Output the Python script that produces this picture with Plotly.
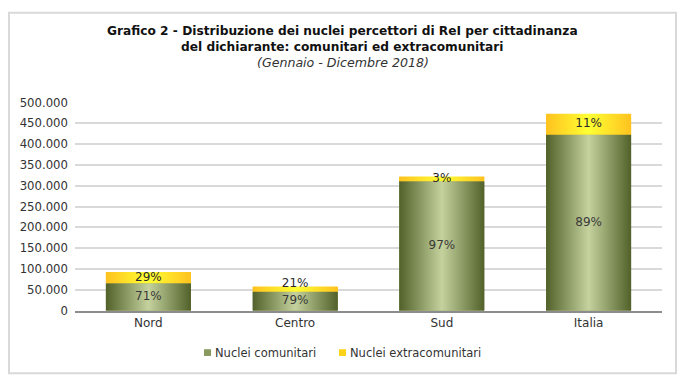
import plotly.graph_objects as go

categories = ["Nord", "Centro", "Sud", "Italia"]
comunitari = [66000, 46000, 311000, 423000]
extracomunitari = [27000, 12000, 11000, 50000]
y_ticks = [0, 50000, 100000, 150000, 200000, 250000, 300000, 350000, 400000, 450000, 500000]
y_tick_labels = ["0", "50.000", "100.000", "150.000", "200.000", "250.000",
                 "300.000", "350.000", "400.000", "450.000", "500.000"]
series_names = ["Nuclei comunitari", "Nuclei extracomunitari"]

W, H = 687, 389
FONT = "DejaVu Sans"
BAR_W = 0.58
GREEN = "#8a9a5e"
YELLOW = "#ffd426"
GREEN_SCALE = [[0, "#516129"], [0.5, "#c5d29e"], [1, "#516129"]]
YELLOW_SCALE = [[0, "#ffc21f"], [0.5, "#ffff33"], [1, "#ffc21f"]]
MIN_LABEL_GAP = 42000  # minimum vertical gap (data units) between the two labels

xs = list(range(len(categories)))
totals = [a + b for a, b in zip(comunitari, extracomunitari)]
pct_c = [f"{round(100 * a / t)}%" for a, t in zip(comunitari, totals)]
pct_e = [f"{round(100 * b / t)}%" for b, t in zip(extracomunitari, totals)]

fig = go.Figure()
fig.add_trace(go.Bar(
    x=xs, y=comunitari, name=series_names[0], width=BAR_W,
    marker=dict(color=GREEN, line=dict(width=0)),
    textposition="none", hoverinfo="skip", showlegend=False,
))
fig.add_trace(go.Bar(
    x=xs, y=extracomunitari, name=series_names[1], width=BAR_W,
    marker=dict(color=YELLOW, line=dict(width=0)),
    textposition="none", hoverinfo="skip", showlegend=False,
))

# gradient shading of each bar segment (same geometry as the bars)
for i, (c, e) in enumerate(zip(comunitari, extracomunitari)):
    for base, val, scale in ((0, c, GREEN_SCALE), (c, e, YELLOW_SCALE)):
        xl, xr = i - BAR_W / 2, i + BAR_W / 2
        fig.add_trace(go.Scatter(
            x=[xl, xr, xr, xl, xl], y=[base, base, base + val, base + val, base],
            mode="lines", line=dict(width=0), fill="toself",
            fillgradient=dict(type="horizontal", colorscale=scale),
            showlegend=False, hoverinfo="skip",
        ))

# labels centred in each segment (top label nudged up when segments are thin)
y_lab_c = [c / 2 for c in comunitari]
y_lab_e = [max(c + e / 2, yc + MIN_LABEL_GAP)
           for c, e, yc in zip(comunitari, extracomunitari, y_lab_c)]
fig.add_trace(go.Scatter(
    x=xs, y=y_lab_c, mode="text", text=pct_c,
    textfont=dict(family=FONT, size=12, color="#3a3a3a"), showlegend=False,
    hoverinfo="skip", cliponaxis=False,
))
fig.add_trace(go.Scatter(
    x=xs, y=y_lab_e, mode="text", text=pct_e,
    textfont=dict(family=FONT, size=12, color="#2a2a2a"), showlegend=False,
    hoverinfo="skip", cliponaxis=False,
))

x0, x1 = 75 / W, 662 / W
y0, y1 = (H - 315) / H, (H - 99) / H

def px(v):
    return v / W

def py(v):
    return (H - v) / H

shapes = [dict(type="rect", xref="paper", yref="paper",
               x0=px(9), x1=px(676), y0=py(380), y1=py(6),
               line=dict(color="#d9d9d9", width=2), fillcolor="rgba(0,0,0,0)",
               layer="below")]
# manual legend
legend_items = [(series_names[0], 204, GREEN), (series_names[1], 339, "#ffd21a")]
annotations = [
    dict(text="<b>Grafico 2 - Distribuzione dei nuclei percettori di ReI per cittadinanza</b>",
         x=px(342), y=py(25), xref="paper", yref="paper", showarrow=False,
         xanchor="center", yanchor="middle", font=dict(size=12.2, color="#111111")),
    dict(text="<b>del dichiarante: comunitari ed extracomunitari</b>",
         x=px(342), y=py(41), xref="paper", yref="paper", showarrow=False,
         xanchor="center", yanchor="middle", font=dict(size=12.2, color="#111111")),
    dict(text="<i>(Gennaio - Dicembre 2018)</i>",
         x=px(343), y=py(58), xref="paper", yref="paper", showarrow=False,
         xanchor="center", yanchor="middle", font=dict(size=12.6, color="#333333")),
]
for name, lx, col in legend_items:
    shapes.append(dict(type="rect", xref="paper", yref="paper",
                       x0=px(lx), x1=px(lx + 7), y0=py(362), y1=py(355),
                       line=dict(width=0), fillcolor=col))
    annotations.append(dict(text=name, x=px(lx + 9), y=py(359), xref="paper",
                            yref="paper", showarrow=False, xanchor="left",
                            yanchor="middle",
                            font=dict(size=11.5, color="#333333")))

fig.update_layout(
    width=W, height=H,
    margin=dict(l=0, r=0, t=0, b=0),
    paper_bgcolor="white", plot_bgcolor="white",
    barmode="stack", showlegend=False,
    font=dict(family=FONT, size=11, color="#333333"),
    xaxis=dict(domain=[x0, x1], range=[-0.5, len(categories) - 0.5],
               tickvals=xs, ticktext=categories, showgrid=False, zeroline=False,
               showline=True, linecolor="#8c8c8c", linewidth=1.5, ticks="",
               tickfont=dict(size=12, color="#333333"), fixedrange=True),
    yaxis=dict(domain=[y0, y1], range=[0, 500000], tickvals=y_ticks,
               ticktext=y_tick_labels, showgrid=True, gridcolor="#d9d9d9",
               gridwidth=1.5, zeroline=False, showline=False, ticks="",
               ticklabelstandoff=6,
               tickfont=dict(size=11.7, color="#333333"), fixedrange=True),
    shapes=shapes,
    annotations=annotations,
)

fig.write_html("out.html", config={"displayModeBar": False},
               post_script="document.body.style.margin='0';document.body.style.overflow='hidden';")
